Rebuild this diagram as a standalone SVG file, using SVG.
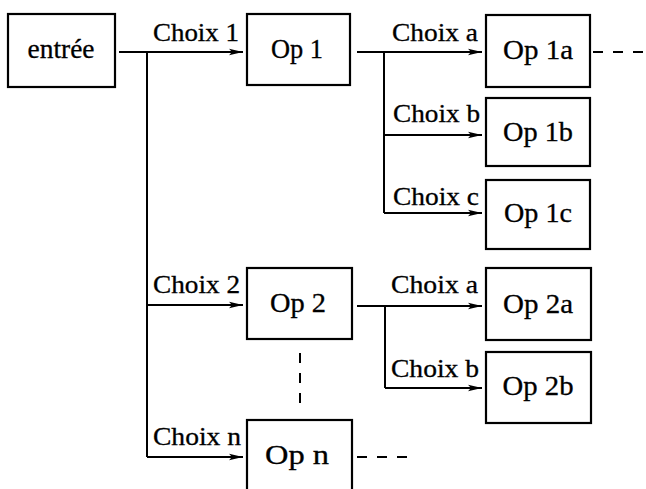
<svg xmlns="http://www.w3.org/2000/svg" width="646" height="489" viewBox="0 0 646 489">
<style>
.box{fill:#fff;stroke:#000;stroke-width:2.2}
.t{font-size:27px;fill:#000;stroke:#000;stroke-width:0.3;text-anchor:middle}
.l{font-size:25px;fill:#000;stroke:#000;stroke-width:0.3}
.ln{fill:none;stroke:#000;stroke-width:2}
.ds{fill:none;stroke:#000;stroke-width:2;stroke-dasharray:10 10}
</style>
<defs>
<marker id="ah" markerWidth="14" markerHeight="8" refX="14" refY="4" orient="auto" markerUnits="userSpaceOnUse">
<path d="M0,0.8 L14,4 L0,7.2 L3,4 z" fill="#000"/>
</marker>
</defs>
<rect width="646" height="489" fill="#fff"/>
<g id="connectors">
<path class="ln" d="M119,52 H243" marker-end="url(#ah)"/>
<path class="ln" d="M147,52 V457"/>
<path class="ln" d="M147,305 H243" marker-end="url(#ah)"/>
<path class="ln" d="M147,457 H243" marker-end="url(#ah)"/>
<path class="ln" d="M357,52 H482" marker-end="url(#ah)"/>
<path class="ln" d="M384,52 V213"/>
<path class="ln" d="M384,135 H482" marker-end="url(#ah)"/>
<path class="ln" d="M384,213 H482" marker-end="url(#ah)"/>
<path class="ln" d="M357,306 H482" marker-end="url(#ah)"/>
<path class="ln" d="M385,306 V388"/>
<path class="ln" d="M385,388 H482" marker-end="url(#ah)"/>
<path class="ds" d="M593,52 H646"/>
<path class="ds" d="M357,457 H410"/>
<path class="ds" d="M300,353 V413"/>
<text class="l" x="153" y="41" textLength="86" lengthAdjust="spacingAndGlyphs" font-family="Liberation Serif">Choix 1</text>
<text class="l" x="153" y="293" textLength="87" lengthAdjust="spacingAndGlyphs" font-family="Liberation Serif">Choix 2</text>
<text class="l" x="153" y="445" textLength="88" lengthAdjust="spacingAndGlyphs" font-family="Liberation Serif">Choix n</text>
<text class="l" x="392" y="41" textLength="86" lengthAdjust="spacingAndGlyphs" font-family="Liberation Serif">Choix a</text>
<text class="l" x="393" y="122" textLength="87" lengthAdjust="spacingAndGlyphs" font-family="Liberation Serif">Choix b</text>
<text class="l" x="393" y="205" textLength="86" lengthAdjust="spacingAndGlyphs" font-family="Liberation Serif">Choix c</text>
<text class="l" x="391" y="293" textLength="87" lengthAdjust="spacingAndGlyphs" font-family="Liberation Serif">Choix a</text>
<text class="l" x="391" y="377" textLength="88" lengthAdjust="spacingAndGlyphs" font-family="Liberation Serif">Choix b</text>
</g>
<g id="entree"><rect class="box" x="8" y="14" width="107" height="73"/><text class="t" x="61" y="58" textLength="67" lengthAdjust="spacingAndGlyphs" font-family="Liberation Serif">entrée</text></g>
<g id="op1"><rect class="box" x="247" y="14" width="103" height="71"/><text class="t" x="297" y="58" textLength="52" lengthAdjust="spacingAndGlyphs" font-family="Liberation Serif">Op 1</text></g>
<g id="op1a"><rect class="box" x="486" y="15" width="104" height="72"/><text class="t" x="538" y="59" textLength="70" lengthAdjust="spacingAndGlyphs" font-family="Liberation Serif">Op 1a</text></g>
<g id="op1b"><rect class="box" x="486" y="98" width="104" height="68"/><text class="t" x="538" y="141" textLength="70" lengthAdjust="spacingAndGlyphs" font-family="Liberation Serif">Op 1b</text></g>
<g id="op1c"><rect class="box" x="486" y="180" width="104" height="69"/><text class="t" x="538" y="222" textLength="68" lengthAdjust="spacingAndGlyphs" font-family="Liberation Serif">Op 1c</text></g>
<g id="op2"><rect class="box" x="247" y="268" width="105" height="71"/><text class="t" x="298" y="312" textLength="56" lengthAdjust="spacingAndGlyphs" font-family="Liberation Serif">Op 2</text></g>
<g id="op2a"><rect class="box" x="486" y="268" width="105" height="72"/><text class="t" x="538" y="313" textLength="70" lengthAdjust="spacingAndGlyphs" font-family="Liberation Serif">Op 2a</text></g>
<g id="op2b"><rect class="box" x="486" y="352" width="105" height="71"/><text class="t" x="538" y="395" textLength="71" lengthAdjust="spacingAndGlyphs" font-family="Liberation Serif">Op 2b</text></g>
<g id="opn"><rect class="box" x="247" y="420" width="105" height="80"/><text class="t" x="297" y="464" textLength="64" lengthAdjust="spacingAndGlyphs" font-family="Liberation Serif">Op n</text></g>
</svg>
